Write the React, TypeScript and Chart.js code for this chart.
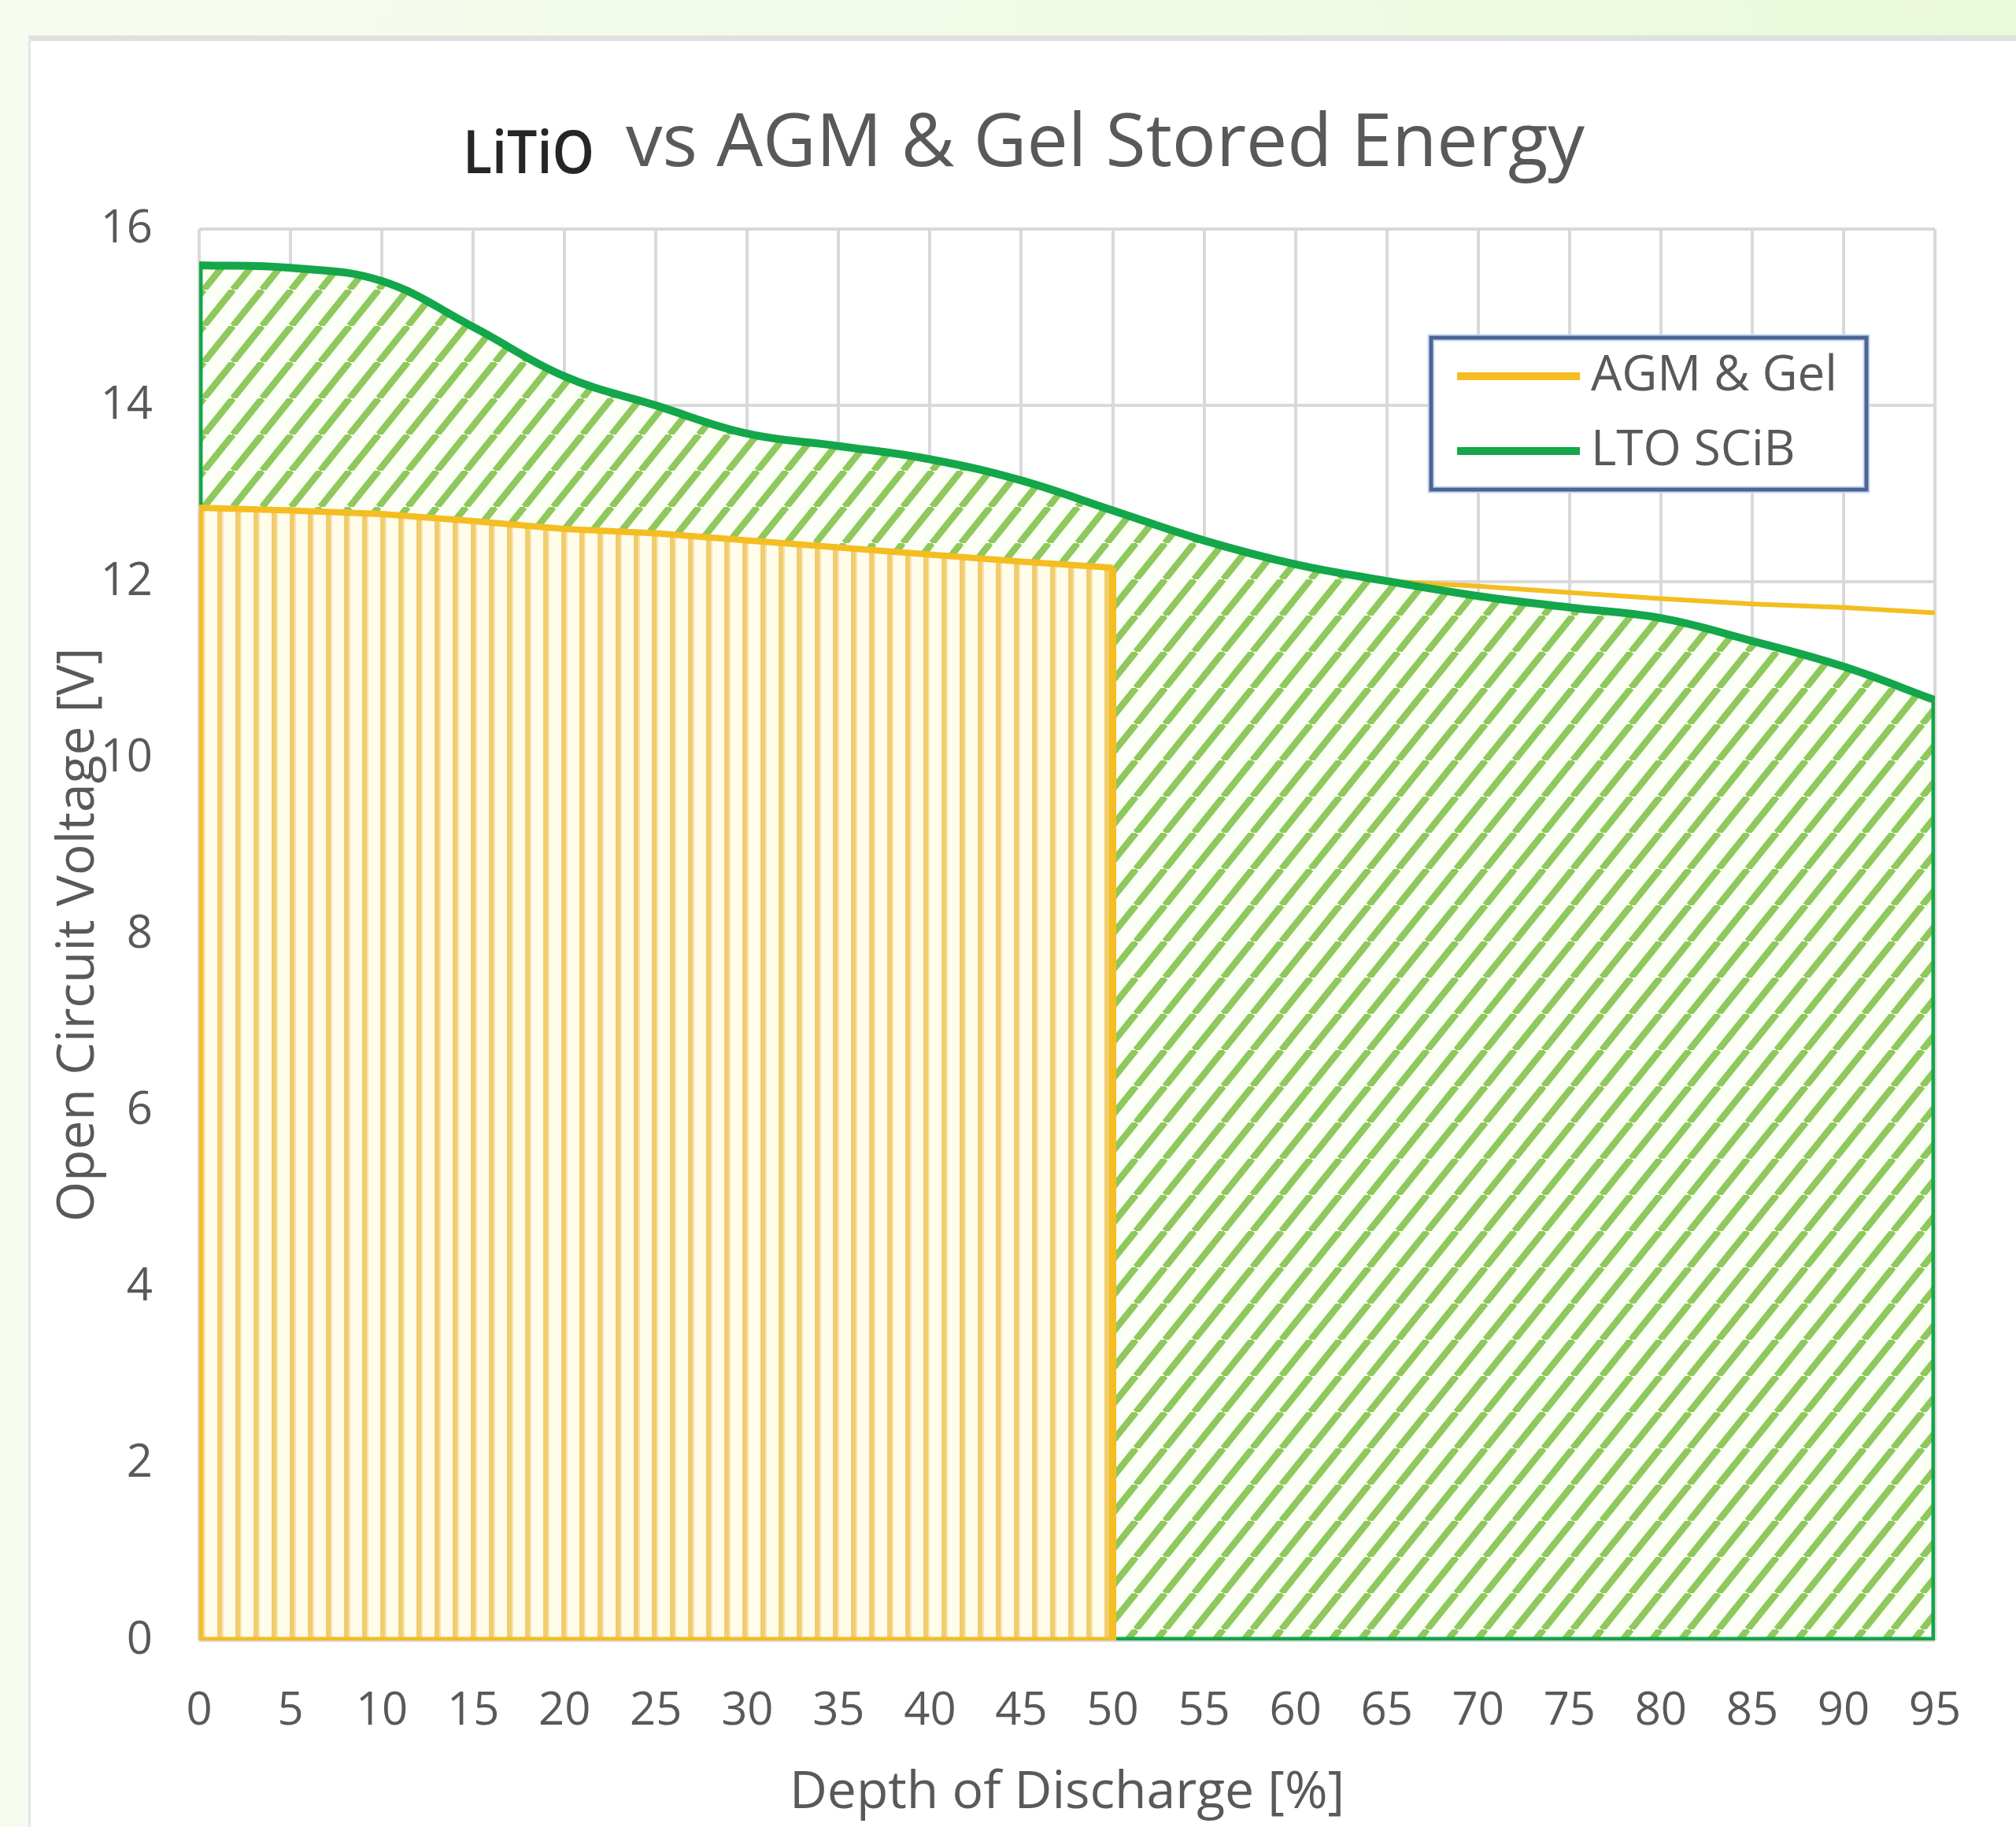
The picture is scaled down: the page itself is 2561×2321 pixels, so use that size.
import React, { useEffect, useRef } from 'react';
import { Chart, registerables } from 'chart.js';

Chart.register(...registerables);

// ---- data ----
const depthOfDischarge = [0, 5, 10, 15, 20, 25, 30, 35, 40, 45, 50, 55, 60, 65, 70, 75, 80, 85, 90, 95];
const agmGelVoltage = [12.84, 12.81, 12.77, 12.69, 12.6, 12.55, 12.47, 12.39, 12.31, 12.23, 12.16, 12.1, 12.06, 12.01, 11.95, 11.88, 11.81, 11.75, 11.71, 11.65];
const ltoScibVoltage = [15.59, 15.56, 15.41, 14.89, 14.33, 14.0, 13.68, 13.54, 13.39, 13.15, 12.81, 12.47, 12.2, 12.01, 11.84, 11.71, 11.59, 11.33, 11.04, 10.66];
const agmUsableDepthLimit = 50;
const seriesLabels = ['AGM & Gel', 'LTO SCiB'];
const titleBrand = 'LiTiO';
const titleText = 'vs AGM & Gel Stored Energy';
const xAxisTitle = 'Depth of Discharge [%]';
const yAxisTitle = 'Open Circuit Voltage [V]';
const xTickStep = 5;
const yTickStep = 2;
const yMax = 16;

const YELLOW = '#f4bd22';
const GREEN = '#13a64a';
const TEXT = '#595959';
const FONT = '"Open Sans", "Noto Sans", sans-serif';

function diagonalPattern(ctx: CanvasRenderingContext2D) {
  const w = 37, h = 46;
  const c = document.createElement('canvas');
  c.width = w; c.height = h;
  const g = c.getContext('2d')!;
  g.fillStyle = '#fbfff6';
  g.fillRect(0, 0, w, h);
  g.strokeStyle = '#8fc85c';
  g.lineWidth = 8.5;
  for (const dx of [-w, 0, w]) {
    g.beginPath();
    g.moveTo(dx, h);
    g.lineTo(dx + w, 0);
    g.stroke();
  }
  return ctx.createPattern(c, 'repeat')!;
}

function verticalPattern(ctx: CanvasRenderingContext2D) {
  const w = 23, h = 4;
  const c = document.createElement('canvas');
  c.width = w; c.height = h;
  const g = c.getContext('2d')!;
  g.fillStyle = '#fffcea';
  g.fillRect(0, 0, w, h);
  g.fillStyle = '#f0cd6e';
  g.fillRect(0, 0, 6, h);
  g.fillStyle = '#f7e4b0';
  g.fillRect(6, 0, 2, h);
  return ctx.createPattern(c, 'repeat')!;
}

const titlePlugin = {
  id: 'splitTitle',
  afterDraw(chart: any) {
    const ctx = chart.ctx as CanvasRenderingContext2D;
    ctx.save();
    ctx.textBaseline = 'alphabetic';
    ctx.textAlign = 'left';
    ctx.font = `600 76px ${FONT}`;
    ctx.fillStyle = '#262626';
    let m = ctx.measureText(titleBrand).width;
    ctx.save();
    ctx.translate(588, 220);
    ctx.scale(167 / m, 1);
    ctx.fillText(titleBrand, 0, 0);
    ctx.restore();
    ctx.font = `94px ${FONT}`;
    ctx.fillStyle = TEXT;
    m = ctx.measureText(titleText).width;
    ctx.save();
    ctx.translate(795, 211);
    ctx.scale(1218 / m, 1);
    ctx.fillText(titleText, 0, 0);
    ctx.restore();
    ctx.restore();
  },
};

const legendPlugin = {
  id: 'insideLegend',
  afterDraw(chart: any) {
    const ctx = chart.ctx as CanvasRenderingContext2D;
    const ca = chart.chartArea;
    const x0 = ca.right - 640, y0 = ca.top + 138, w = 553, h = 193;
    ctx.save();
    ctx.fillStyle = '#ffffff';
    ctx.fillRect(x0, y0, w, h);
    ctx.strokeStyle = '#c9d9f6';
    ctx.lineWidth = 9;
    ctx.strokeRect(x0, y0, w, h);
    ctx.strokeStyle = '#4c6593';
    ctx.lineWidth = 5;
    ctx.strokeRect(x0, y0, w, h);
    const items = seriesLabels.map((lab) => chart.data.datasets.find((d: any) => d.label === lab));
    items.forEach((ds: any, i: number) => {
      const cy = y0 + 49 + i * 95;
      ctx.strokeStyle = ds.borderColor;
      ctx.lineWidth = 10;
      ctx.lineCap = 'butt';
      ctx.beginPath();
      ctx.moveTo(x0 + 33, cy);
      ctx.lineTo(x0 + 189, cy);
      ctx.stroke();
      ctx.fillStyle = TEXT;
      ctx.font = `62px ${FONT}`;
      ctx.textBaseline = 'middle';
      ctx.textAlign = 'left';
      ctx.fillText(ds.label, x0 + 203, cy);
    });
    ctx.restore();
  },
};

export default function App() {
  const ref = useRef<HTMLCanvasElement | null>(null);

  useEffect(() => {
    const canvas = ref.current!;
    const ctx = canvas.getContext('2d')!;
    const agmPts = depthOfDischarge.map((x, i) => ({ x, y: agmGelVoltage[i] }));
    const ltoPts = depthOfDischarge.map((x, i) => ({ x, y: ltoScibVoltage[i] }));
    const agmStored = agmPts.filter((p) => p.x <= agmUsableDepthLimit);
    const agmFirst = agmStored[0];
    const agmLast = agmStored[agmStored.length - 1];
    const ltoFirst = ltoPts[0];
    const ltoLast = ltoPts[ltoPts.length - 1];
    const ltoTension = 0.4;

    const chart = new Chart(ctx, {
      type: 'line',
      data: {
        datasets: [
          {
            label: seriesLabels[1],
            data: ltoPts,
            borderColor: GREEN,
            borderWidth: 10,
            tension: ltoTension,
            pointRadius: 0,
            fill: false,
            order: 0,
          },
          {
            data: [
              { x: agmFirst.x, y: agmFirst.y },
              { x: agmFirst.x, y: 0 },
              { x: agmLast.x, y: 0 },
              { x: agmLast.x, y: agmLast.y },
            ],
            borderColor: YELLOW,
            borderWidth: 9,
            tension: 0,
            pointRadius: 0,
            fill: false,
            order: 1,
          },
          {
            data: agmStored,
            borderColor: YELLOW,
            borderWidth: 8,
            backgroundColor: verticalPattern(ctx),
            tension: 0,
            pointRadius: 0,
            fill: 'origin',
            order: 2,
          },
          {
            data: [
              { x: ltoFirst.x, y: ltoFirst.y },
              { x: ltoFirst.x, y: 0 },
              { x: ltoLast.x, y: 0 },
              { x: ltoLast.x, y: ltoLast.y },
            ],
            borderColor: GREEN,
            borderWidth: 9,
            tension: 0,
            pointRadius: 0,
            fill: false,
            order: 3,
          },
          {
            data: ltoPts,
            borderColor: GREEN,
            borderWidth: 0,
            backgroundColor: diagonalPattern(ctx),
            tension: ltoTension,
            pointRadius: 0,
            fill: 'origin',
            order: 4,
          },
          {
            label: seriesLabels[0],
            data: agmPts,
            borderColor: YELLOW,
            borderWidth: 6,
            tension: 0,
            pointRadius: 0,
            fill: false,
            order: 5,
          },
        ] as any,
      },
      options: {
        responsive: false,
        animation: false,
        events: [],
        layout: { padding: { left: 61, right: 103, top: 291, bottom: 3 } },
        plugins: {
          legend: { display: false },
          title: { display: false },
          tooltip: { enabled: false },
        },
        scales: {
          x: {
            type: 'linear',
            min: depthOfDischarge[0],
            max: depthOfDischarge[depthOfDischarge.length - 1],
            ticks: { stepSize: xTickStep, color: TEXT, font: { family: FONT, size: 58 }, padding: 56, maxRotation: 0 },
            grid: { color: '#d9d9d9', lineWidth: 4, drawTicks: false },
            border: { display: false },
            title: { display: true, text: xAxisTitle, color: TEXT, font: { family: FONT, size: 66 }, padding: 0 },
            afterFit: (s: any) => { s.height = 234; },
          },
          y: {
            type: 'linear',
            min: 0,
            max: yMax,
            ticks: { stepSize: yTickStep, color: TEXT, font: { family: FONT, size: 58 }, padding: 59 },
            grid: { color: '#d9d9d9', lineWidth: 4, drawTicks: false },
            border: { display: false },
            title: { display: true, text: yAxisTitle, color: TEXT, font: { family: FONT, size: 66 }, padding: 0 },
            afterFit: (s: any) => { s.width = 192; },
          },
        },
      } as any,
      plugins: [titlePlugin, legendPlugin],
    });
    return () => chart.destroy();
  }, []);

  return (
    <div
      style={{
        position: 'absolute',
        left: 0,
        top: 0,
        width: 2561,
        height: 2321,
        overflow: 'hidden',
        background: 'linear-gradient(90deg, #f7fcf1 0%, #f1fbe6 50%, #eaf9d9 100%)',
      }}
    >
      <div
        style={{
          position: 'absolute',
          left: 36,
          top: 45,
          right: 0,
          bottom: 0,
          background: '#ffffff',
          borderTop: '7px solid #e0e0e0',
          borderLeft: '3px solid #e6e6e6',
        }}
      />
      <canvas
        ref={ref}
        width={2561}
        height={2321}
        style={{ position: 'absolute', left: 0, top: 0, width: 2561, height: 2321 }}
      />
    </div>
  );
}
